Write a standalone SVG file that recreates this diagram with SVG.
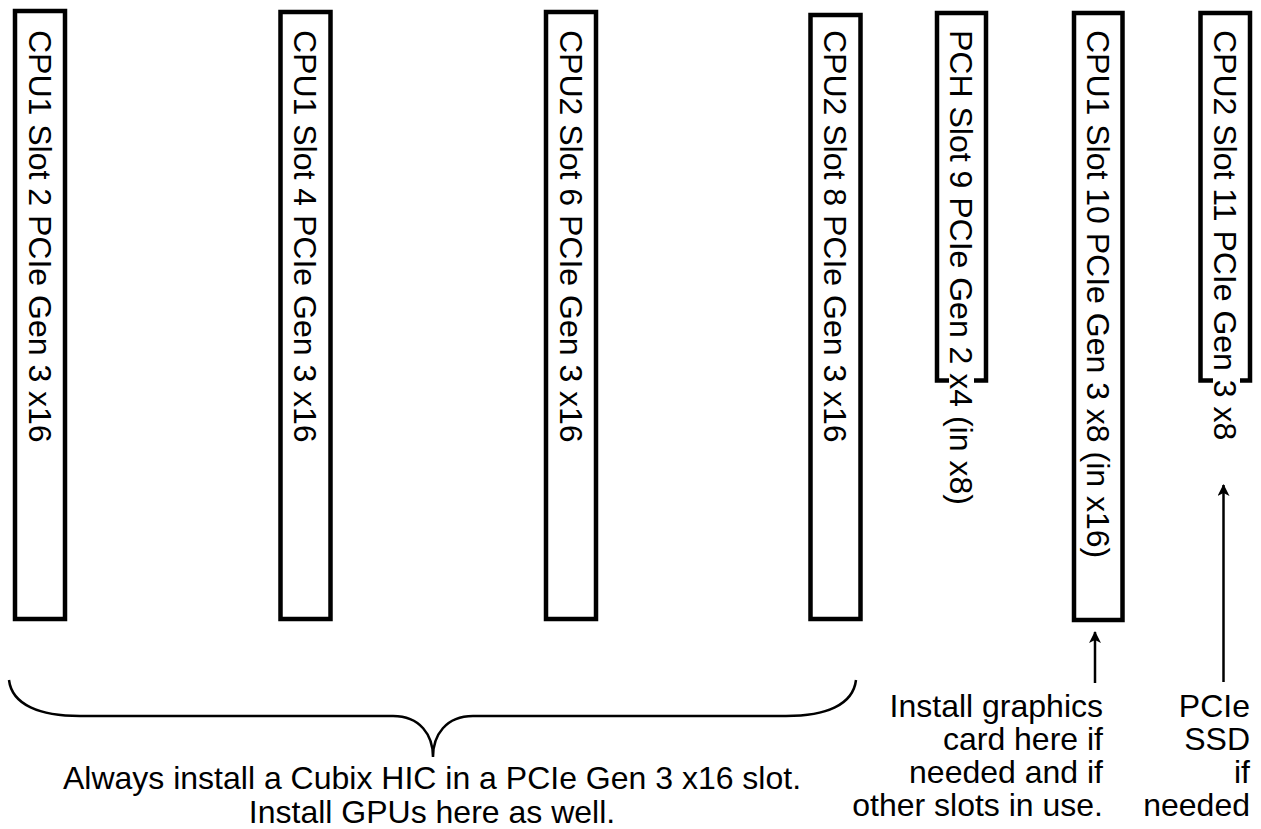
<svg xmlns="http://www.w3.org/2000/svg" width="1261" height="829" viewBox="0 0 1261 829">
<style>
.slot{fill:none;stroke:#000;stroke-width:4.5}
.lbl{font-family:"Liberation Sans",Arial,sans-serif;font-size:32px;fill:#000}
.note{font-family:"Liberation Sans",Arial,sans-serif;font-size:32px;fill:#000}
.conn{fill:none;stroke:#000;stroke-width:2.5}
</style>
<defs>
<marker id="ah" viewBox="0 0 12 12" refX="11" refY="6" markerWidth="12" markerHeight="12" markerUnits="userSpaceOnUse" orient="auto">
<path d="M0,0 L12,6 L0,12 L3,6 Z" fill="#000"/>
</marker>
</defs>
<rect width="1261" height="829" fill="#fff"/>

<g id="slot2">
<rect class="slot" x="15" y="11" width="50" height="608"/>
<text class="lbl" transform="translate(28.5,30) rotate(90)">CPU1 Slot 2 PCIe Gen 3 x16</text>
</g>
<g id="slot4">
<rect class="slot" x="280.5" y="12" width="50" height="607"/>
<text class="lbl" transform="translate(294,30) rotate(90)">CPU1 Slot 4 PCIe Gen 3 x16</text>
</g>
<g id="slot6">
<rect class="slot" x="546" y="12" width="50" height="607"/>
<text class="lbl" transform="translate(559.5,30) rotate(90)">CPU2 Slot 6 PCIe Gen 3 x16</text>
</g>
<g id="slot8">
<rect class="slot" x="810.5" y="15" width="50" height="604"/>
<text class="lbl" transform="translate(824,30) rotate(90)">CPU2 Slot 8 PCIe Gen 3 x16</text>
</g>
<g id="slot9">
<path class="slot" d="M949,380.5 H937 V13 H986 V380.5 H974"/>
<text class="lbl" transform="translate(950,30) rotate(90)">PCH Slot 9 PCIe Gen 2 x4 (in x8)</text>
</g>
<g id="slot10">
<rect class="slot" x="1074" y="13" width="48.5" height="607"/>
<text class="lbl" transform="translate(1086.5,30) rotate(90)">CPU1 Slot 10 PCIe Gen 3 x8 (in x16)</text>
</g>
<g id="slot11">
<path class="slot" d="M1213,380.5 H1200.5 V13 H1250 V380.5 H1240"/>
<text class="lbl" transform="translate(1213.5,30) rotate(90)">CPU2 Slot 11 PCIe Gen 3 x8</text>
</g>

<g id="connectors">
<path class="conn" d="M9,680 C12,705 40,716 80,716 H393 C420,716 433,735 433,757 C433,735 446,716 473,716 H786 C826,716 853,705 856,680"/>
<line class="conn" x1="1095" y1="683" x2="1095" y2="632" marker-end="url(#ah)"/>
<line class="conn" x1="1223.5" y1="682" x2="1223.5" y2="485" marker-end="url(#ah)"/>
</g>

<g id="note-gpu">
<text class="note" x="432" y="789" text-anchor="middle">Always install a Cubix HIC in a PCIe Gen 3 x16 slot.</text>
<text class="note" x="432" y="823" text-anchor="middle">Install GPUs here as well.</text>
</g>
<g id="note-graphics">
<text class="note" text-anchor="end" x="1103" y="717">Install graphics</text>
<text class="note" text-anchor="end" x="1103" y="750">card here if</text>
<text class="note" text-anchor="end" x="1103" y="783">needed and if</text>
<text class="note" text-anchor="end" x="1103" y="816">other slots in use.</text>
</g>
<g id="note-ssd">
<text class="note" text-anchor="end" x="1250" y="717">PCIe</text>
<text class="note" text-anchor="end" x="1250" y="750">SSD</text>
<text class="note" text-anchor="end" x="1250" y="783">if</text>
<text class="note" text-anchor="end" x="1250" y="816">needed</text>
</g>
</svg>
